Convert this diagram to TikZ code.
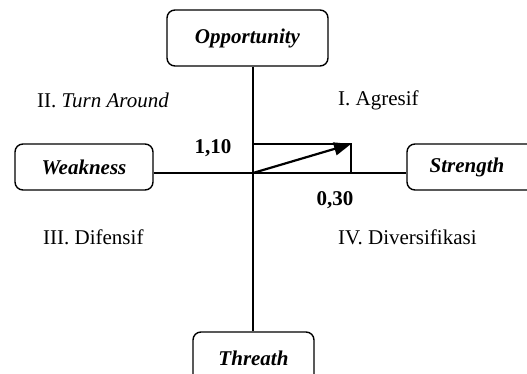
\documentclass[tikz,border=0pt]{standalone}
\usepackage{fontspec}
\setmainfont{Liberation Serif}
\usetikzlibrary{arrows.meta}
\begin{document}
\begin{tikzpicture}[x=1pt,y=-1pt,
  box/.style={draw,line width=1.4pt,rounded corners=8pt,inner sep=0pt,font=\fontsize{21}{25}\selectfont\bfseries\itshape},
  lbl/.style={inner sep=0pt,anchor=west,font=\fontsize{21}{25}\selectfont},
  val/.style={inner sep=0pt,font=\fontsize{21}{25}\selectfont\bfseries},
  ln/.style={line width=1.4pt}]
\useasboundingbox (0,0) rectangle (527,374);
\clip (0,0) rectangle (527,374);
\node[box,minimum width=161pt,minimum height=56pt] (opp) at (247.5,38) {Opportunity};
\node[box,minimum width=138pt,minimum height=46pt] (weak) at (84,167) {Weakness};
\node[box,minimum width=140pt,minimum height=46pt] (str) at (477,167) {Strength\hspace*{20pt}};
\node[box,minimum width=121pt,minimum height=52pt] (thr) at (253.5,358) {Threath};
\coordinate (o) at (253,173);
\coordinate (p) at (351,144);
\coordinate (q) at (351,173);
\draw[ln] (o |- opp.south) -- (o |- thr.north);
\draw[ln] (weak.east |- o) -- (str.west |- o);
\draw[ln] (o |- p) -- (p) -- (q);
\draw[line width=2.2pt,-{Triangle[length=17pt,width=13pt]}] (o) -- (p);
\node[val] (v1) at (213,148) {1,10};
\node[val] (v2) at (335,200) {0,30};
\node[lbl] (q2) at (37,100) {II. \textit{Turn Around}};
\node[lbl] (q1) at (338,100) {I. Agresif};
\node[lbl] (q3) at (43,237) {III. Difensif};
\node[lbl] (q4) at (338,237) {IV. Diversifikasi};
\end{tikzpicture}
\end{document}
